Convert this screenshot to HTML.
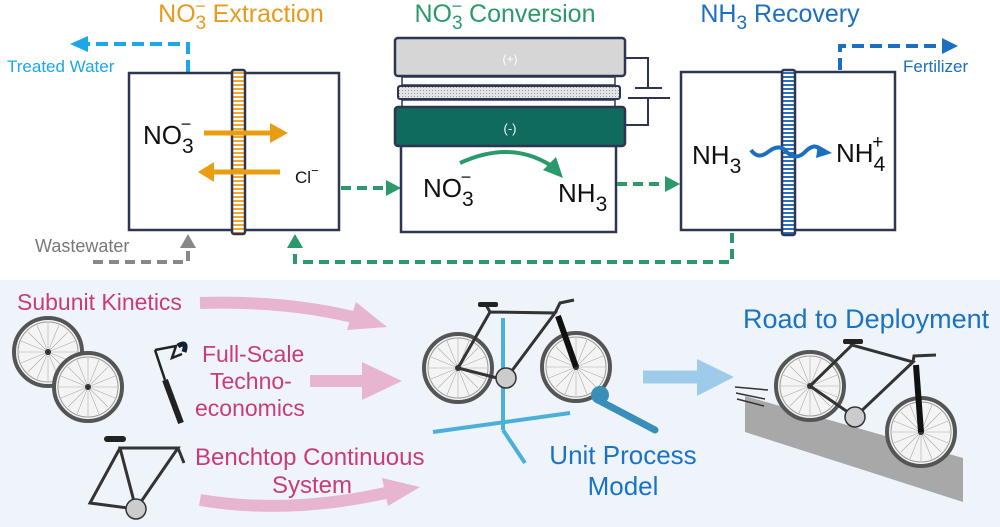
<!DOCTYPE html>
<html><head><meta charset="utf-8"><style>
html,body{margin:0;padding:0;background:#fff}
svg{display:block}
text{font-family:"Liberation Sans",sans-serif}
</style></head><body>
<svg width="1000" height="527" viewBox="0 0 1000 527" xmlns="http://www.w3.org/2000/svg">
<defs>
<pattern id="ostr" width="4" height="4" patternUnits="userSpaceOnUse"><rect width="4" height="4" fill="#fff"/><rect width="4" height="2" fill="#f0a830"/></pattern>
<pattern id="bstr" width="4" height="4" patternUnits="userSpaceOnUse"><rect width="4" height="4" fill="#fff"/><rect width="4" height="2" fill="#2d6fc4"/></pattern>
<pattern id="dots" width="3" height="3" patternUnits="userSpaceOnUse"><rect width="3" height="3" fill="#e4e4e4"/><rect width="1" height="1" fill="#999"/></pattern>
<g id="wheel"><circle r="34" fill="#f4f4f4" stroke="#555" stroke-width="4"/><circle r="30" fill="none" stroke="#999" stroke-width="1"/><g stroke="#aaa" stroke-width="0.6"><line x1="-29" y1="0" x2="29" y2="0"/><line x1="0" y1="-29" x2="0" y2="29"/><line x1="-20" y1="-20" x2="20" y2="20"/><line x1="-20" y1="20" x2="20" y2="-20"/><line x1="-27" y1="-11" x2="27" y2="11"/><line x1="-27" y1="11" x2="27" y2="-11"/><line x1="-11" y1="-27" x2="11" y2="27"/><line x1="-11" y1="27" x2="11" y2="-27"/></g><circle r="3" fill="#333"/></g>
</defs>

<!-- titles -->
<text x="241" y="22" font-size="25" fill="#e79b1a" text-anchor="middle">NO<tspan font-size="19" dy="7">3</tspan><tspan dy="-17" dx="-11" font-size="18">−</tspan><tspan dy="10"> Extraction</tspan></text>
<text x="505" y="22" font-size="25" fill="#2a9a6a" text-anchor="middle">NO<tspan font-size="19" dy="7">3</tspan><tspan dy="-17" dx="-11" font-size="18">−</tspan><tspan dy="10"> Conversion</tspan></text>
<text x="780" y="22" font-size="25" fill="#1a6fc0" text-anchor="middle">NH<tspan font-size="19" dy="7">3</tspan><tspan dy="-7"> Recovery</tspan></text>

<!-- treated water -->
<path d="M188 72 V44 H84" fill="none" stroke="#1aa8e8" stroke-width="4" stroke-dasharray="12 6"/>
<polygon points="70,44 88,36 88,52" fill="#1aa8e8"/>
<text x="7" y="72" font-size="17" fill="#1aa8e8">Treated Water</text>

<!-- box1 -->
<rect x="129" y="73" width="210" height="157" fill="#fff" stroke="#2e3550" stroke-width="2.5"/>
<rect x="232" y="70" width="13" height="164" fill="url(#ostr)" stroke="#2e3550" stroke-width="2.5" rx="2"/>
<text x="143" y="144" font-size="26" fill="#111">NO<tspan font-size="21" dy="9">3</tspan><tspan dy="-23" dx="-13" font-size="18">−</tspan></text>
<line x1="204" y1="133" x2="272" y2="133" stroke="#e89e10" stroke-width="5"/><polygon points="288,133 270,123 270,143" fill="#e89e10"/>
<line x1="280" y1="172" x2="212" y2="172" stroke="#e89e10" stroke-width="5"/><polygon points="198,172 214,162 214,182" fill="#e89e10"/>
<text x="295" y="183" font-size="17" fill="#111">Cl<tspan font-size="13" dy="-8">−</tspan></text>

<!-- wastewater -->
<text x="35" y="252" font-size="18" fill="#777">Wastewater</text>
<path d="M93 262 H188 V246" fill="none" stroke="#888" stroke-width="4" stroke-dasharray="10 6"/>
<polygon points="188,234 180,248 196,248" fill="#888"/>

<!-- green dashed 1->2 -->
<path d="M341 188 H388" stroke="#2a9a6a" stroke-width="4" stroke-dasharray="10 6"/>
<polygon points="401,188 386,180 386,196" fill="#2a9a6a"/>

<!-- cell 2 -->
<rect x="401" y="140" width="215" height="92" fill="#fff" stroke="#2e3550" stroke-width="2.5"/>
<rect x="395" y="38" width="230" height="38" rx="3" fill="#d6d6d6" stroke="#2e3550" stroke-width="2.5"/>
<rect x="402" y="77" width="213" height="8" fill="#fff" stroke="#2e3550" stroke-width="1.5"/>
<rect x="398" y="86" width="222" height="13" rx="2" fill="url(#dots)" stroke="#2e3550" stroke-width="2"/>
<rect x="402" y="100" width="213" height="7" fill="#fff" stroke="#2e3550" stroke-width="1.5"/>
<rect x="395" y="107" width="230" height="39" rx="3" fill="#0e6b5e" stroke="#2e3550" stroke-width="2.5"/>
<text x="510" y="63" font-size="12" fill="#fff" text-anchor="middle">(+)</text>
<text x="510" y="133" font-size="13" fill="#fff" text-anchor="middle">(-)</text>
<path d="M625 58 H648 V88 M635 88 H662 M628 98 H670 M648 98 V125 H625" fill="none" stroke="#2e3550" stroke-width="2"/>
<text x="423" y="197" font-size="26" fill="#111">NO<tspan font-size="21" dy="9">3</tspan><tspan dy="-23" dx="-13" font-size="18">−</tspan></text>
<text x="558" y="202" font-size="26" fill="#111">NH<tspan font-size="21" dy="9">3</tspan></text>
<path d="M460 163 Q510 140 550 165" fill="none" stroke="#2a9a6a" stroke-width="4"/>
<polygon points="563,178 543,170 556,157" fill="#2a9a6a"/>

<!-- green 2->3 -->
<path d="M617 184 H666" stroke="#2a9a6a" stroke-width="4" stroke-dasharray="10 6"/>
<polygon points="680,184 665,176 665,192" fill="#2a9a6a"/>

<!-- box3 -->
<rect x="681" y="72" width="214" height="158" fill="#fff" stroke="#2e3550" stroke-width="2.5"/>
<rect x="782" y="70" width="13" height="165" fill="url(#bstr)" stroke="#2e3550" stroke-width="2.5" rx="2"/>
<text x="692" y="164" font-size="26" fill="#111">NH<tspan font-size="21" dy="9">3</tspan></text>
<text x="836" y="162" font-size="26" fill="#111">NH<tspan font-size="21" dy="9">4</tspan><tspan dy="-23" dx="-13" font-size="19">+</tspan></text>
<path d="M751 150 Q758 160 768 152 T785 150 Q795 162 805 152 T820 150" fill="none" stroke="#1a6fc0" stroke-width="4"/>
<polygon points="832,153 818,145 816,158" fill="#1a6fc0"/>

<!-- fertilizer -->
<path d="M840 70 V46 H943" fill="none" stroke="#1a6fc0" stroke-width="4" stroke-dasharray="12 6"/>
<polygon points="958,46 942,38 942,54" fill="#1a6fc0"/>
<text x="903" y="72" font-size="17" fill="#1a6fc0">Fertilizer</text>

<!-- recycle -->
<path d="M732 233 V262 H295 V248" fill="none" stroke="#2a9a6a" stroke-width="4" stroke-dasharray="10 6"/>
<polygon points="295,234 287,248 303,248" fill="#2a9a6a"/>

<!-- bottom panel -->
<rect x="0" y="280" width="1000" height="247" fill="#eff4fa"/>

<text x="17" y="310" font-size="23" fill="#c83c7a">Subunit Kinetics</text>
<text x="202" y="362" font-size="23" fill="#c83c7a">Full-Scale</text>
<text x="210" y="389" font-size="23" fill="#c83c7a">Techno-</text>
<text x="195" y="416" font-size="23" fill="#c83c7a">economics</text>
<text x="195" y="465" font-size="24" fill="#c83c7a">Benchtop Continuous</text>
<text x="272" y="493" font-size="24" fill="#c83c7a">System</text>

<path d="M200 303 Q290 300 365 320" fill="none" stroke="#e8b5cf" stroke-width="12"/>
<polygon points="387,327 356,302 347,330" fill="#e8b5cf"/>
<line x1="310" y1="381" x2="370" y2="381" stroke="#e8b5cf" stroke-width="12"/>
<polygon points="402,381 362,362 362,400" fill="#e8b5cf"/>
<path d="M200 500 Q290 515 390 492" fill="none" stroke="#e8b5cf" stroke-width="12"/>
<polygon points="420,487 382,478 388,506" fill="#e8b5cf"/>

<!-- parts -->
<use href="#wheel" x="48" y="352"/>
<use href="#wheel" x="88" y="387"/>
<path d="M155 350 L176 346 L172 358 L182 354 M155 350 L165 380" fill="none" stroke="#222" stroke-width="2.5"/>
<line x1="165" y1="380" x2="181" y2="423" stroke="#222" stroke-width="6"/>
<path d="M178 346 Q188 340 184 352" fill="none" stroke="#123" stroke-width="5"/>
<g fill="none" stroke="#333" stroke-width="3"><path d="M120 448 L178 448 L136 509 Z M120 448 L90 503 L136 509 M178 448 L184 463"/></g>
<rect x="104" y="436" width="22" height="6" rx="3" fill="#222"/>
<circle cx="136" cy="509" r="10" fill="#ccc" stroke="#333" stroke-width="1.5"/>

<!-- center bike + stand -->
<g stroke="#4ab0d9" stroke-width="4" fill="none"><line x1="503" y1="318" x2="503" y2="420"/><line x1="433" y1="432" x2="570" y2="413"/><line x1="503" y1="430" x2="525" y2="463"/><line x1="503" y1="420" x2="503" y2="430"/></g>
<use href="#wheel" x="458" y="368"/>
<use href="#wheel" x="576" y="367"/>
<g fill="none" stroke="#333" stroke-width="3"><path d="M458 368 L490 312 L555 313 L505 380 Z M490 312 L486 305 M555 313 L560 303 L574 300"/></g>
<line x1="558" y1="316" x2="576" y2="367" stroke="#111" stroke-width="6"/>
<circle cx="506" cy="378" r="10" fill="#ccc" stroke="#333" stroke-width="1.5"/>
<rect x="478" y="302" width="20" height="5" rx="2" fill="#222"/>
<path d="M598 400 L655 430" stroke="#3a8fb8" stroke-width="7" stroke-linecap="round"/>
<circle cx="600" cy="395" r="9" fill="#3a8fb8"/>
<text x="623" y="464" font-size="26" fill="#1a73c4" text-anchor="middle">Unit Process</text>
<text x="623" y="495" font-size="26" fill="#1a73c4" text-anchor="middle">Model</text>

<line x1="643" y1="377" x2="700" y2="377" stroke="#9fcbea" stroke-width="13"/>
<polygon points="734,377 697,359 697,396" fill="#9fcbea"/>

<text x="743" y="328" font-size="27" fill="#1a73c4">Road to Deployment</text>
<polygon points="745,396 963,458 963,502 745,432" fill="#a8a8a8"/>
<g stroke="#333" stroke-width="1.5"><line x1="735" y1="387" x2="768" y2="390"/><line x1="736" y1="393" x2="765" y2="399"/><line x1="737" y1="399" x2="764" y2="406"/></g>
<use href="#wheel" x="810" y="386"/>
<use href="#wheel" x="921" y="432"/>
<g fill="none" stroke="#333" stroke-width="3"><path d="M810 386 L852 345 L913 362 L855 417 Z M852 345 L848 340 M913 362 L914 356 L936 355"/></g>
<line x1="916" y1="365" x2="921" y2="432" stroke="#111" stroke-width="6"/>
<circle cx="855" cy="417" r="10" fill="#ccc" stroke="#333" stroke-width="1.5"/>
<rect x="843" y="339" width="20" height="5" rx="2" fill="#222"/>
</svg>
</body></html>
